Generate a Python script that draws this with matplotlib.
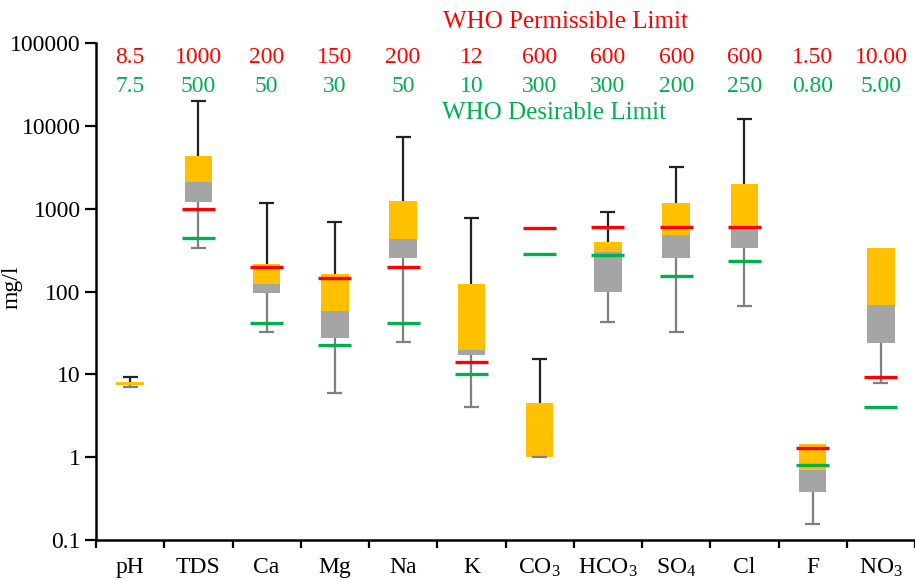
import matplotlib
matplotlib.use("Agg")
import matplotlib.pyplot as plt
import matplotlib.transforms as mtransforms
import numpy as np

plt.rcParams['font.family'] = ['Liberation Serif', 'DejaVu Serif']
plt.rcParams['mathtext.fontset'] = 'custom'
plt.rcParams['mathtext.rm'] = 'Liberation Serif'
plt.rcParams['mathtext.it'] = 'Liberation Serif:italic'

# parameters on the x axis
params = ['pH', 'TDS', 'Ca', 'Mg', 'Na', 'K', 'CO$_3$', 'HCO$_3$',
          'SO$_4$', 'Cl', 'F', 'NO$_3$']

# box plot statistics (mg/l)
wmin = [7.0, 335, 32.5, 6.0, 24.6, 4.0, 1.0, 43, 32.5, 67, 0.156, 7.9]
q1 = [7.4, 1200, 96, 27.5, 253, 17.0, 1.0, 98.6, 253, 335, 0.38, 24]
med = [7.5, 2100, 123, 58, 430, 19.7, 1.0, 300, 480, 600, 0.70, 69]
q3 = [8.1, 4325, 215, 163, 1240, 123, 4.5, 395, 1170, 1990, 1.44, 335]
wmax = [9.4, 20000, 1170, 690, 7330, 772, 15.3, 912, 3170, 12000, 1.44, 335]

# WHO limit lines as drawn
perm_line = [np.nan, 1000, 198, 145, 198, 14.1, 582, 600, 600, 600, 1.29, 9.3]
desir_line = [np.nan, 443, 41.7, 22.6, 41.7, 10.1, 284, 276, 154, 234, 0.81, 4.04]

# WHO limit labels printed on top
perm_text = ['8.5', '1000', '200', '150', '200', '12', '600', '600', '600', '600', '1.50', '10.00']
desir_text = ['7.5', '500', '50', '30', '50', '10', '300', '300', '200', '250', '0.80', '5.00']

ORANGE = '#FFC000'
GREY = '#A5A5A5'
RED = '#FF0000'
GREEN = '#00B050'
FS = 17

fig = plt.figure(figsize=(9.15, 5.8), dpi=100)
ax = fig.add_axes([96/915, 40/580, 819/915, 497/580])
ax.set_yscale('log')

x = np.arange(len(params))
q1 = np.array(q1); med = np.array(med); q3 = np.array(q3)
wmin = np.array(wmin); wmax = np.array(wmax)

bw = 0.40
ax.bar(x, med - q1, bottom=q1, width=bw, color=GREY, zorder=2)
ax.bar(x, q3 - med, bottom=med, width=bw, color=ORANGE, zorder=2)

# whiskers: upper black, lower grey
cw = 0.22
up = wmax > q3
ax.vlines(x[up], q3[up], wmax[up], color='#222222', lw=1.6, zorder=1)
ax.hlines(wmax[up], x[up] - cw/2, x[up] + cw/2, color='#222222', lw=1.6, zorder=3)
ax.vlines(x, wmin, q1, color='#7F7F7F', lw=1.6, zorder=1)
ax.hlines(wmin, x - cw/2, x + cw/2, color='#7F7F7F', lw=1.6, zorder=3)

# limit lines
lw_ = 0.48
ax.hlines(perm_line, x - lw_/2, x + lw_/2, color=RED, lw=2.4, zorder=4)
ax.hlines(desir_line, x - lw_/2, x + lw_/2, color=GREEN, lw=2.4, zorder=4)

ax.set_ylim(0.1, 100000)
ax.set_xlim(-0.5, 11.46)
yt = [0.1, 1, 10, 100, 1000, 10000, 100000]
ax.set_yticks(yt)
ax.set_yticklabels(['0.1', '1', '10', '100', '1000', '10000', '100000'])
ax.yaxis.set_minor_locator(matplotlib.ticker.NullLocator())
ax.set_xticks(np.arange(-0.5, 12, 1))
ax.set_xticklabels([])
ax.set_xticks(x, minor=True)
ax.set_xticklabels(params, minor=True)
ax.tick_params(axis='x', which='minor', length=0, pad=12, labelsize=FS)
ax.tick_params(axis='x', which='major', length=6, width=1.6, direction='out')
ax.tick_params(axis='y', which='major', length=8, width=1.6, pad=3, labelsize=FS)

for s in ['top', 'right']:
    ax.spines[s].set_visible(False)
for s in ['left', 'bottom']:
    ax.spines[s].set_linewidth(1.8)

ax.set_ylabel('mg/l', fontsize=FS)
ax.yaxis.set_label_coords(-0.090, 0.509)

trans = mtransforms.blended_transform_factory(ax.transData, ax.transAxes)
for i in range(len(params)):
    ax.text(x[i], 0.970, perm_text[i], color=RED, fontsize=FS,
            ha='center', va='center', transform=trans)
    ax.text(x[i], 0.912, desir_text[i], color=GREEN, fontsize=FS,
            ha='center', va='center', transform=trans)
ax.text(4.58, 1.043, 'WHO Permissible Limit', color=RED, fontsize=18,
        ha='left', va='center', transform=trans, clip_on=False)
ax.text(4.57, 0.859, 'WHO Desirable Limit', color=GREEN, fontsize=18,
        ha='left', va='center', transform=trans)

fig.savefig('out.png', dpi=100)
